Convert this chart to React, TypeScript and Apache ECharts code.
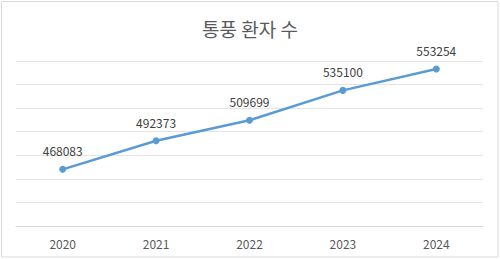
import React, { useEffect, useRef } from "react";
import * as echarts from "echarts";

const title = "통풍 환자 수";
const years = ["2020", "2021", "2022", "2023", "2024"];
const patients = [468083, 492373, 509699, 535100, 553254];
const yMin = 420000;
const yMax = 560000;
const yStep = 20000;

export default function App() {
  const ref = useRef<HTMLDivElement>(null);
  useEffect(() => {
    if (!ref.current) return;
    const chart = echarts.init(ref.current, null, { renderer: "svg" });
    const font = "'Noto Sans CJK KR', 'Noto Sans', sans-serif";
    chart.setOption({
      animation: false,
      backgroundColor: "#ffffff",
      title: {
        text: title,
        left: "center",
        top: 14,
        textStyle: { fontFamily: font, fontSize: 19, fontWeight: "normal", color: "#595959" },
      },
      graphic: [
        {
          type: "rect",
          shape: { x: 1.5, y: 1.5, width: 496.5, height: 255.5 },
          style: { fill: "none", stroke: "#d9d9d9", lineWidth: 1 },
          silent: true,
        },
      ],
      grid: { left: 16, right: 17, top: 61, bottom: 33 },
      xAxis: {
        type: "category",
        data: years,
        boundaryGap: true,
        axisLine: { show: true, lineStyle: { color: "#d9d9d9", width: 1 } },
        axisTick: { show: false },
        axisLabel: { fontFamily: font, fontSize: 12, color: "#595959", margin: 11 },
      },
      yAxis: {
        type: "value",
        min: yMin,
        max: yMax,
        interval: yStep,
        axisLabel: { show: false },
        axisLine: { show: false },
        axisTick: { show: false },
        splitLine: { lineStyle: { color: "#e4e4e4", width: 1 } },
      },
      series: [
        {
          type: "line",
          data: patients,
          symbol: "circle",
          symbolSize: 7,
          lineStyle: { color: "#5b9bd5", width: 2.5 },
          itemStyle: { color: "#5b9bd5" },
          label: {
            show: true,
            position: "top",
            distance: 9,
            fontFamily: font,
            fontSize: 12,
            color: "#404040",
          },
        },
      ],
    });
    return () => chart.dispose();
  }, []);
  return (
    <div
      ref={ref}
      style={{ position: "absolute", left: 0, top: 0, width: 500, height: 259 }}
    />
  );
}
